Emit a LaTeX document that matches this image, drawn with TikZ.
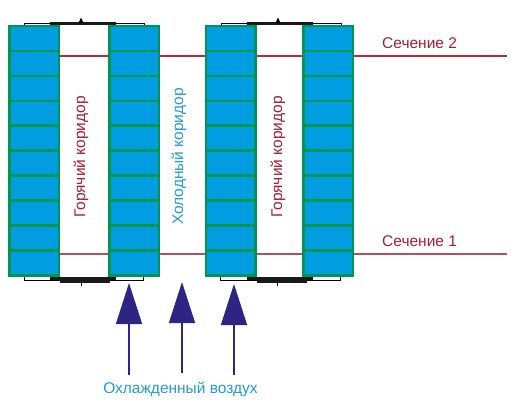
\documentclass[tikz,border=0pt]{standalone}
\usepackage{fontspec}
\setmainfont{Liberation Sans}
\usepackage{xcolor}
\usetikzlibrary{arrows.meta,positioning}
\definecolor{rackblue}{RGB}{0,158,224}
\definecolor{rackgreen}{RGB}{0,150,80}
\definecolor{hotred}{RGB}{166,30,50}
\definecolor{linered}{RGB}{190,40,60}
\definecolor{lowred}{RGB}{178,80,95}
\definecolor{coldblue}{RGB}{35,155,215}
\definecolor{airnavy}{RGB}{46,36,131}

\tikzset{
  cell/.style={draw=rackgreen, fill=rackblue, line width=2.7pt, minimum width=49.5pt, minimum height=24.95pt, inner sep=0pt, outer sep=0pt},
  airflow/.style={draw=airnavy, line width=1.5pt, -{Triangle[length=41pt,width=26pt,fill=airnavy]}},
  hotlabel/.style={text=hotred, font=\fontsize{15.5}{18}\selectfont},
  coldlabel/.style={text=coldblue, font=\fontsize{15.5}{18}\selectfont},
  capthin/.style={draw=black, line width=0.9pt},
  capthick/.style={fill=black!90, draw=none}
}

\begin{document}
\begin{tikzpicture}[x=1pt, y=-1pt]
  \useasboundingbox (0,0) rectangle (514,402);
  % section lines
  \coordinate (s2a) at (59,56);
  \coordinate (s2b) at (507,56);
  \coordinate (s1a) at (59,254);
  \coordinate (s1b) at (507,254);
  \draw[linered, line width=1.5pt] (s2a) -- (s2b);
  \draw[lowred, line width=1.5pt] (s1a) -- (s1b);
  % racks
  \foreach \rack/\cx in {a/34.25, b/134.25, c/230.75, d/328.25} {
    \foreach \row in {1,...,10} {
      \node[cell] (\rack\row) at (\cx, {26+24.95*(\row-0.5)}) {};
    }
  }
  % top covers
  \draw[capthin] (24.5,25) -- (24.5,23.5) -- (144,23.5) -- (144,25);
  \fill[capthick] (50,22) rectangle (116,25);
  \fill[black] (78.5,23) -- (81,17.5) -- (83.5,23) -- cycle;
  \draw[capthin] (221.5,25) -- (221.5,23) -- (341,23) -- (341,25);
  \fill[capthick] (247,22) rectangle (313,25);
  \fill[black] (275.5,23) -- (278,17.5) -- (280.5,23) -- cycle;
  % bottom covers
  \draw[capthin] (24.5,277) -- (24.5,280.5) -- (143,280.5) -- (143,277);
  \fill[capthick] (50,276.5) rectangle (116,279.5);
  \fill[capthick] (60,279.5) rectangle (110,283);
  \draw[black, line width=1pt] (81,283) -- (81,286);
  \draw[capthin] (220.5,277) -- (220.5,280.5) -- (340,280.5) -- (340,277);
  \fill[capthick] (247,276.5) rectangle (313,279.5);
  \fill[capthick] (257,279.5) rectangle (307,283);
  \draw[black, line width=1pt] (277.5,283) -- (277.5,286);
  % labels
  \node[hotlabel, rotate=90] (hot1) at (81,157) {Горячий коридор};
  \node[coldlabel, rotate=90] (cold) at (179,156.5) {Холодный коридор};
  \node[hotlabel, rotate=90] (hot2) at (278,157) {Горячий коридор};
  \node[hotlabel, anchor=west, inner sep=0pt] (sec2) at (382,43) {Сечение 2};
  \node[hotlabel, anchor=west, inner sep=0pt] (sec1) at (382,241) {Сечение 1};
  \node[coldlabel, inner sep=0pt] (air) at (180.5,389) {Охлажденный воздух};
  % air arrows
  \coordinate (f1) at (129,375);
  \coordinate (t1) at (129,283);
  \coordinate (f2) at (182,373);
  \coordinate (t2) at (182,282);
  \coordinate (f3) at (234,375);
  \coordinate (t3) at (234,284);
  \draw[airflow] (f1) -- (t1);
  \draw[airflow] (f2) -- (t2);
  \draw[airflow] (f3) -- (t3);
\end{tikzpicture}
\end{document}
